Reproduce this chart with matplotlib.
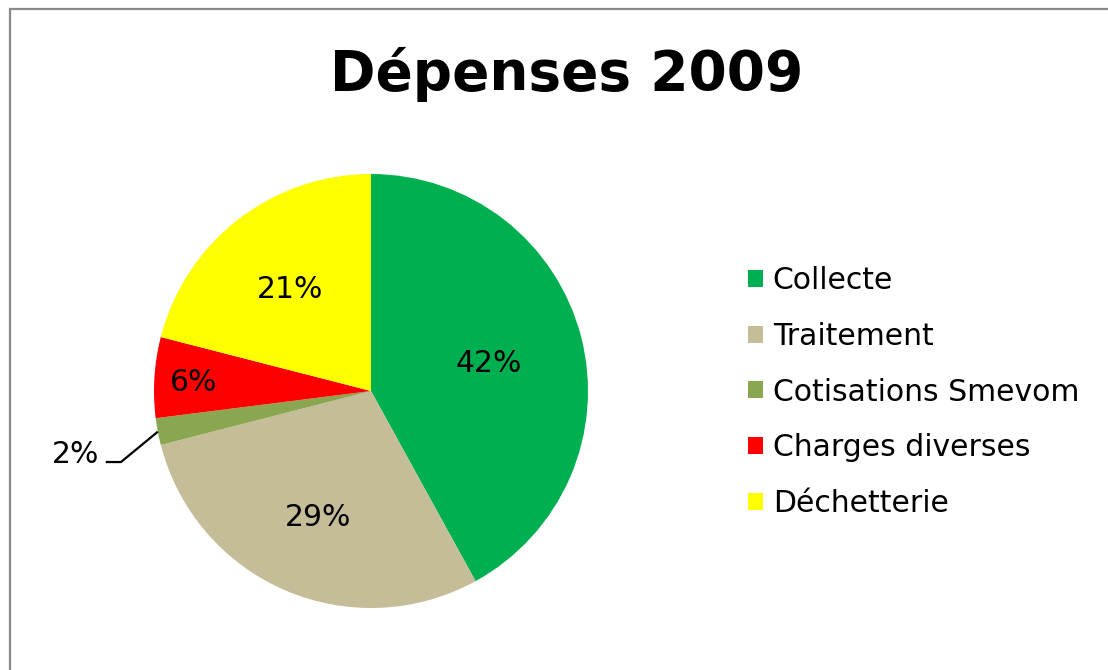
import numpy as np
import matplotlib.pyplot as plt
from matplotlib.patches import Rectangle

# data
categories = ['Collecte', 'Traitement', 'Cotisations Smevom', 'Charges diverses', 'Déchetterie']
shares = [42, 29, 2, 6, 21]
colors = ['#00B050', '#C4BD97', '#8AA650', '#FF0000', '#FFFF00']
# radial position of each percentage label (fraction of radius)
label_dist = [0.56, 0.62, None, 0.82, 0.61]

plt.rcParams['font.family'] = ['DejaVu Sans']

fig = plt.figure(figsize=(11.08, 6.7), dpi=100)
W, H = 1108, 670

# pie placed so that centre ~ (371, 391) px and radius ~217 px
cx, cy, r = 371, 391, 217
ax = fig.add_axes([(cx - r) / W, (H - cy - r) / H, 2 * r / W, 2 * r / H])

wedges, _ = ax.pie(shares, colors=colors, startangle=90, counterclock=False,
                   radius=1, wedgeprops=dict(linewidth=0))
ax.set_xlim(-1, 1)
ax.set_ylim(-1, 1)
ax.set_aspect('equal')

for w, val, d in zip(wedges, shares, label_dist):
    mid = np.deg2rad((w.theta1 + w.theta2) / 2)
    if d is not None:
        ax.text(d * np.cos(mid), d * np.sin(mid), f'{val}%', ha='center',
                va='center_baseline', fontsize=21.5)
    else:
        # small slice: leader line to outside label
        ex, ey = np.cos(mid), np.sin(mid)
        elbow_x, elbow_y = ex - 0.17, ey - 0.14
        ax.plot([ex, elbow_x, elbow_x - 0.07], [ey, elbow_y, elbow_y], color='black',
                lw=1.6, clip_on=False, solid_capstyle='butt')
        ax.text(elbow_x - 0.1, elbow_y + 0.05, f'{val}%', ha='right',
                va='center_baseline', fontsize=21.5)

fig.text(0.511, 1 - 90 / H, 'Dépenses 2009', ha='center', va='baseline',
         fontsize=39.5, fontweight='bold')

fig.legend(wedges, categories, loc='center left', bbox_to_anchor=(748 / W, 1 - 392 / H),
           frameon=False, fontsize=21.5, handlelength=0.5, handleheight=0.5,
           handletextpad=0.33, labelspacing=0.89, borderpad=0, borderaxespad=0)

# grey chart border (runs past right and bottom edges like the crop)
fig.patches.append(Rectangle((9.5 / W, -0.1), 1.2, 1.1 - 9.5 / H, transform=fig.transFigure,
                             fill=False, edgecolor='#898989', linewidth=1.6))

fig.savefig('out.png', dpi=100)
